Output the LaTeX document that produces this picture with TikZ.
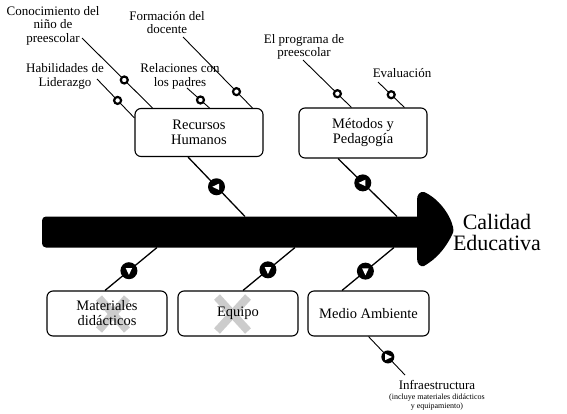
\documentclass[tikz,border=0pt]{standalone}
\usepackage{fontspec}
\setmainfont{Liberation Serif}
\usetikzlibrary{calc}

\begin{document}
\begin{tikzpicture}[
    x=1pt, y=-1pt,
    cause/.style={
      rectangle, rounded corners=6pt,
      minimum width=#1, minimum height=48pt,
      draw=black, line width=1.1pt,
      align=center, inner sep=2pt,
      font=\fontsize{14.5}{15}\selectfont,
    },
    cause/.default=128pt,
    sublabel/.style={align=center, inner sep=1pt, font=\fontsize{13}{13.5}\selectfont},
    branch/.style={line width=1.3pt},
    twig/.style={line width=0.9pt},
    bigdot/.style={
      circle, fill=black, minimum size=17pt, inner sep=0pt,
      path picture={\fill[white]
        ([shift={(#1:4.2pt)}]path picture bounding box.center)
        -- ([shift={(#1+130:4.2pt)}]path picture bounding box.center)
        -- ([shift={(#1-130:4.2pt)}]path picture bounding box.center) -- cycle;},
    },
    smalldot/.style={circle, draw=black, line width=2.2pt, fill=white, minimum size=7pt, inner sep=0pt},
    cross/.style={line width=8pt, black!20},
  ]
  \useasboundingbox (0,0) rectangle (567,413);

  % spine and head
  \fill[rounded corners=4pt] (420,216.5) -- (42,216.5) -- (42,247.5) -- (420,247.5);
  \fill (417,200) .. controls (417,194) and (420,191.5) .. (424,192)
    .. controls (438,198) and (450,214) .. (453,227)
    .. controls (454,231) and (453,234) .. (451,237)
    .. controls (444,250) and (436,259) .. (424,266)
    .. controls (420,267) and (417,264) .. (417,258) -- cycle;
  \node[font=\fontsize{22}{21}\selectfont, align=center] (goal) at (497,232.5) {Calidad\\Educativa};

  % grey crosses
  \draw[cross] (99,298) -- (127,330) (127,298) -- (99,330);
  \draw[cross] (217,297) -- (248,331) (248,297) -- (217,331);

  % causes
  \node[cause] (rh) at (199,132.5) {Recursos\\Humanos};
  \node[cause, minimum height=50pt] (mp) at (363,133) {Métodos y\\Pedagogía};
  \node[cause=120pt, minimum height=45pt] (mat) at (107,313.5) {Materiales\\didácticos};
  \node[cause=120pt, minimum height=45pt] (eq) at (238,313.5) {Equipo};
  \node[cause=121pt, minimum height=45pt] (ma) at (368.5,313.5) {Medio Ambiente};

  % sub-causes
  \node[sublabel] (kno) at (53,25.5) {Conocimiento del\\niño de\\preescolar};
  \node[sublabel] (doc) at (167,22.5) {Formación del\\docente};
  \node[sublabel] (lid) at (65,76.5) {Habilidades de\\Liderazgo};
  \node[sublabel] (pad) at (180,76.5) {Relaciones con\\los padres};
  \node[sublabel] (prog) at (304,47) {El programa de\\preescolar};
  \node[sublabel] (eva) at (402,73) {Evaluación};
  \node[sublabel] (inf) at (437,385) {Infraestructura};
  \node[font=\fontsize{8}{8.5}\selectfont, align=center, inner sep=0pt] (inf-note) at (437,402)
    {(incluye materiales didácticos\\y equipamiento)};

  \coordinate (kno-e) at (82,38);
  \coordinate (doc-e) at (183,37);
  \coordinate (lid-e) at (97,79);
  \coordinate (pad-e) at (187,88);
  \coordinate (prog-e) at (303,60);
  \coordinate (eva-e) at (378,82);
  \coordinate (inf-e) at (405,375);

  \draw[twig] (kno-e) -- node[smalldot, pos=0.6] (kno-m) {} ([xshift=18pt]rh.north west);
  \draw[twig] (doc-e) -- node[smalldot, pos=0.77] (doc-m) {} ([xshift=118pt]rh.north west);
  \draw[twig] (lid-e) -- node[smalldot, pos=0.55] (lid-m) {} ([yshift=-10pt]rh.north west);
  \draw[twig] (pad-e) -- node[smalldot, pos=0.6] (pad-m) {} ([xshift=75pt]rh.north west);
  \draw[twig] (prog-e) -- node[smalldot, pos=0.71] (prog-m) {} ([xshift=53pt]mp.north west);
  \draw[twig] (eva-e) -- node[smalldot, pos=0.5] (eva-m) {} ([xshift=106pt]mp.north west);

  % main branches
  \coordinate (sp-rh) at (245,216.5);
  \coordinate (sp-mp) at (397,216.5);
  \coordinate (sp-mat) at (157,247.5);
  \coordinate (sp-eq) at (295,247.5);
  \coordinate (sp-ma) at (394,247.5);

  \draw[branch] ([xshift=-11pt]rh.south) -- node[bigdot=180, pos=0.5] (rh-m) {} (sp-rh);
  \draw[branch] ([xshift=-25pt]mp.south) -- node[bigdot=180, pos=0.42] (mp-m) {} (sp-mp);
  \draw[branch] (sp-mat) -- node[bigdot=-90, pos=0.54] (mat-m) {} ([xshift=-2pt]mat.north);
  \draw[branch] (sp-eq) -- node[bigdot=-90, pos=0.52] (eq-m) {} ([xshift=5pt]eq.north);
  \draw[branch] (sp-ma) -- node[bigdot=-90, pos=0.55] (ma-m) {} ([xshift=-26.5pt]ma.north);
  \draw[twig] (ma.south) -- node[bigdot=0, minimum size=13pt, pos=0.53] (inf-m) {} (inf-e);
\end{tikzpicture}
\end{document}
